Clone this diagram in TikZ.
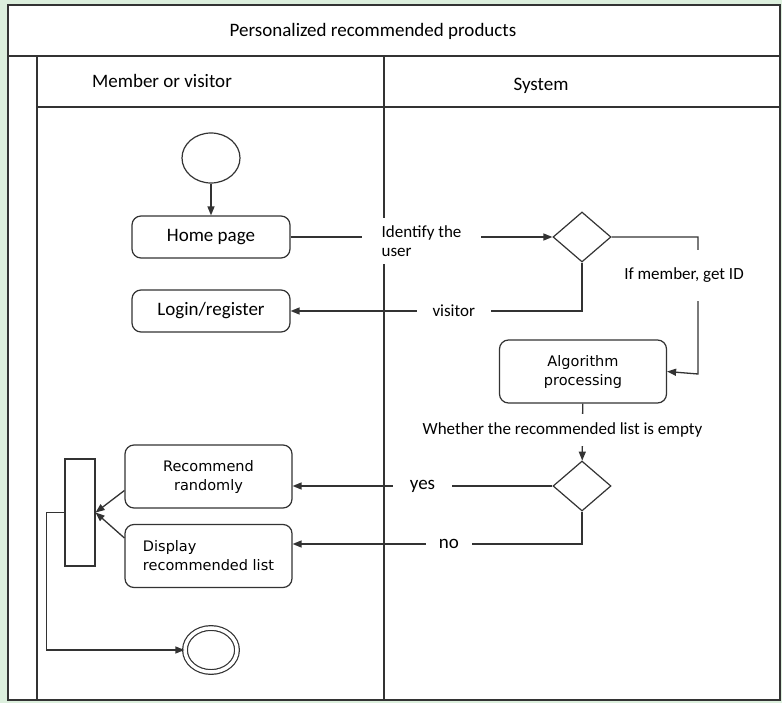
\documentclass[tikz,border=0pt]{standalone}
\usepackage{fontspec}
\setmainfont{Carlito}
\newfontfamily\boxfont{DejaVu Sans}
\usetikzlibrary{arrows.meta,shapes.geometric}
\definecolor{linegray}{HTML}{333333}
\definecolor{paleframe}{HTML}{DCEFDD}
\tikzset{
  frame/.style={draw=linegray, line width=1.8pt},
  bigtext/.style={font=\fontsize{19}{22}\selectfont},
  activity/.style={draw=linegray, line width=1.2pt, rounded corners=9pt,
    minimum width=158pt, minimum height=42pt, bigtext},
  process/.style={draw=linegray, line width=1.2pt, rounded corners=9pt,
    minimum width=167pt, minimum height=63pt, align=center,
    font=\boxfont\fontsize{14.5}{19}\selectfont},
  decision/.style={diamond, draw=linegray, line width=1.2pt,
    minimum width=58pt, minimum height=50pt, inner sep=0pt},
  startnode/.style={ellipse, draw=linegray, line width=1.2pt,
    minimum width=58pt, minimum height=50pt},
  endnode/.style={ellipse, draw=linegray, line width=1.2pt, double,
    double distance=3.5pt, minimum width=52pt, minimum height=44pt},
  flow/.style={draw=linegray, line width=1.3pt, -{Triangle[length=9pt,width=7pt]}},
  lbl/.style={fill=white, inner xsep=17pt, inner ysep=8pt, align=left,
    font=\fontsize{17}{19}\selectfont},
}

\begin{document}
\begin{tikzpicture}[x=1pt,y=-1pt]
  \useasboundingbox (0,0) rectangle (782,703);
  \fill[paleframe] (0,0) rectangle (782,703);
  \fill[white] (8,5) rectangle (780,700);
  % swimlane frame
  \draw[frame] (8,5) rectangle (780,700);
  \draw[frame] (8,56) -- (780,56);
  \draw[frame] (37,107) -- (780,107);
  \draw[frame] (37,56) -- (37,700);
  \draw[frame] (384,56) -- (384,700);
  \node[bigtext] (title) at (373,31) {Personalized recommended products};
  \node[bigtext] (member) at (162,81) {Member or visitor};
  \node[bigtext] (system) at (541,86) {System};

  % activities
  \node[startnode] (start) at (211,158) {};
  \node[activity] (home) at (211,237) {Home page};
  \node[activity] (login) at (211,311) {Login/register};
  \node[decision] (ident) at (582,237) {};
  \node[process] (algo) at (583,371.5) {Algorithm\\processing};
  \node[decision] (empty) at (582,486) {};
  \node[process] (random) at (208.5,476.5) {Recommend\\randomly};
  \node[process, align=left] (display) at (208.5,556) {Display\\recommended list};
  \node[draw=linegray, line width=1.2pt, minimum width=30pt, minimum height=107pt,
    inner sep=0pt] (join) at (80,512.5) {};
  \node[endnode] (end) at (211,650) {};
  \coordinate (getid) at (698,374);

  % flows
  \draw[flow] (start) -- (home);
  \draw[flow] (home) -- node[lbl, inner xsep=20pt, yshift=-4pt] {Identify the\\user} (ident);
  \draw[flow] (ident.south) |- node[lbl, pos=0.72, inner xsep=16pt] {visitor} (login.east);
  \draw[flow] (ident.east) -| node[lbl, pos=0.64, inner ysep=18pt, xshift=-14pt] {If member, get ID} (getid) -- (algo.east);
  \draw[flow] (algo) -- node[lbl, inner ysep=9pt, xshift=-20pt, yshift=2pt] {Whether the recommended list is empty} (empty);
  \draw[flow] (empty.west) -- node[lbl, bigtext] {yes} (empty.west -| random.east);
  \draw[flow] (empty.south) |- node[lbl, bigtext, pos=0.73, inner xsep=13pt] {no} ([yshift=12pt]display.east);
  \draw[flow] ([yshift=-14pt]random.west) -- (join.east);
  \draw[flow] ([yshift=18pt]display.west) -- (join.east);
  \draw[flow] (join.west) -- ++(-18,0) |- (end.west);
\end{tikzpicture}
\end{document}
